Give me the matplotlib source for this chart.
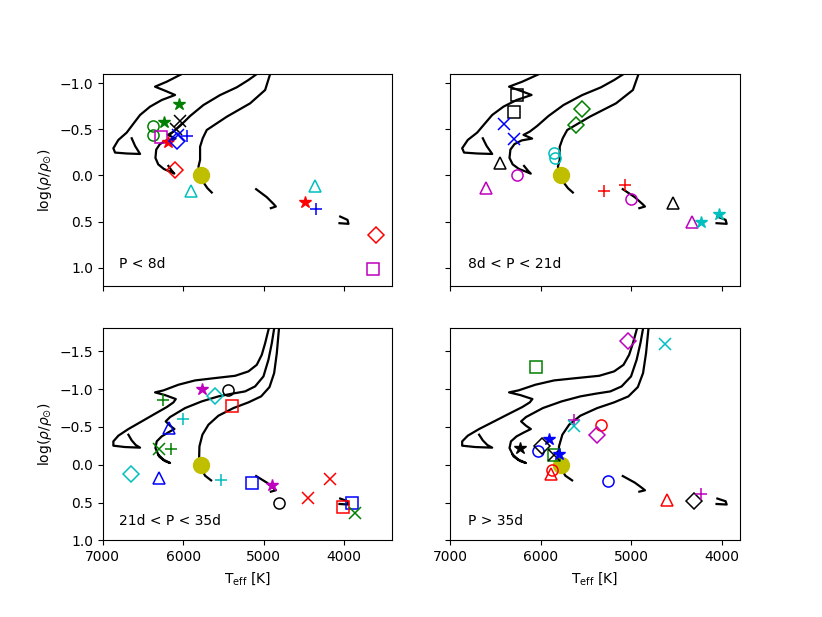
import matplotlib
matplotlib.use("Agg")
import matplotlib.pyplot as plt

# ---------------- evolutionary tracks (Teff [K], log rho/rho_sun) ----------------
# top row tracks
topA_T = [6640, 6598, 6536, 6700, 6847, 6868, 6806, 6702, 6620, 6536, 6412, 6267, 6101, 6225, 6350, 6204, 6018, 5850]
topA_r = [-0.403, -0.320, -0.233, -0.238, -0.248, -0.295, -0.385, -0.465, -0.560, -0.656, -0.746, -0.818, -0.873, -0.919, -0.963, -1.017, -1.100, -1.160]
topB_T = [6184, 6140, 6110, 6160, 6240, 6310, 6345, 6335, 6290, 6210, 6095, 6190, 6122, 6039, 5914, 5748, 5541, 5334, 5189, 5085, 5000]
topB_r = [-0.103, -0.050, -0.020, -0.040, -0.070, -0.120, -0.190, -0.280, -0.340, -0.380, -0.400, -0.440, -0.475, -0.537, -0.645, -0.764, -0.872, -0.956, -1.035, -1.100, -1.160]
topC_T = [5645, 5699, 5769, 5810, 5790, 5790, 5757, 5707, 5458, 5168, 4981, 4919, 4890]
topC_r = [0.185, 0.138, 0.048, -0.096, -0.168, -0.312, -0.403, -0.493, -0.637, -0.782, -0.927, -1.100, -1.160]

# bottom row tracks
botA_T = [6681, 6640, 6590, 6536, 6723, 6868, 6868, 6806, 6681, 6515, 6350, 6204, 6121, 6092, 6225, 6350, 6246, 6059, 5852, 5603, 5354, 5189, 5085, 5023, 4981, 4940, 4919]
botA_r = [-0.397, -0.322, -0.261, -0.226, -0.234, -0.252, -0.309, -0.384, -0.472, -0.573, -0.674, -0.762, -0.824, -0.868, -0.920, -0.956, -0.982, -1.057, -1.114, -1.145, -1.175, -1.233, -1.320, -1.452, -1.606, -1.782, -1.870]
botB_T = [6308, 6250, 6163, 6230, 6300, 6345, 6329, 6267, 6184, 6109, 6163, 6217, 6163, 5976, 5769, 5562, 5396, 5230, 5106, 5002, 4940, 4898, 4865]
botB_r = [-0.133, -0.070, -0.023, -0.050, -0.110, -0.221, -0.309, -0.375, -0.428, -0.472, -0.516, -0.573, -0.630, -0.749, -0.837, -0.903, -0.938, -0.969, -1.035, -1.167, -1.387, -1.607, -1.826]
botC_T = [5653, 5728, 5777, 5802, 5798, 5761, 5686, 5562, 5375, 5189, 5031, 4927, 4869, 4836, 4807]
botC_r = [0.206, 0.144, 0.043, -0.089, -0.243, -0.397, -0.529, -0.648, -0.749, -0.824, -0.903, -1.026, -1.211, -1.475, -1.826]

# low-mass main-sequence segments (all panels)
hookD_T = [5093, 4960, 4878, 4848, 4910]
hookD_r = [0.149, 0.236, 0.308, 0.337, 0.355]
hookE_T = [4048, 3957, 3945, 4057]
hookE_r = [0.446, 0.482, 0.525, 0.518]

sun_T, sun_r = 5777, 0.0

# ---------------- stars per period bin ----------------
labels = ["P < 8d", "8d < P < 21d", "21d < P < 35d", "P > 35d"]

p1_T = [6047, 6238, 6039, 6095, 6371, 6371, 6279, 6184, 6060, 6072, 5955, 6101, 5906, 4359, 4484, 4347, 3601, 3634]
p1_r = [-0.775, -0.583, -0.590, -0.500, -0.537, -0.439, -0.414, -0.367, -0.440, -0.378, -0.428, -0.060, 0.167, 0.113, 0.283, 0.366, 0.651, 1.012]
p1_m = ['*', '*', 'x', 'x', 'o', 'o', 's', '*', 'x', 'D', '+', 'D', '^', '^', '*', '+', 'D', 's']
p1_c = ['g', 'g', 'k', 'k', 'g', 'g', 'm', 'r', 'b', 'b', 'b', 'r', 'c', 'c', 'r', 'b', 'r', 'm']

p2_T = [6262, 6299, 6406, 6299, 5544, 5614, 5853, 5838, 6446, 6258, 6601, 5304, 5072, 5006, 4538, 4325, 4225, 4030]
p2_r = [-0.872, -0.685, -0.558, -0.392, -0.717, -0.548, -0.241, -0.186, -0.139, -0.006, 0.131, 0.167, 0.102, 0.258, 0.301, 0.500, 0.507, 0.417]
p2_m = ['s', 's', 'x', 'x', 'D', 'D', 'o', 'o', '^', 'o', '^', '+', '+', 'o', '^', '^', '*', '*']
p2_c = ['k', 'k', 'b', 'b', 'g', 'g', 'c', 'c', 'k', 'm', 'm', 'r', 'r', 'm', 'k', 'm', 'c', 'c']

p3_T = [5769, 5603, 5437, 5388, 6254, 5997, 6175, 6296, 6155, 6652, 6300, 5529, 5147, 4898, 4803, 4451, 4173, 3903, 4015, 3870]
p3_r = [-0.995, -0.903, -0.982, -0.775, -0.850, -0.599, -0.489, -0.204, -0.204, 0.126, 0.170, 0.206, 0.241, 0.271, 0.505, 0.439, 0.184, 0.500, 0.557, 0.637]
p3_m = ['*', 'D', 'o', 's', '+', '+', '^', 'x', '+', 'D', '^', '+', 's', '*', 'o', 'x', 'x', 's', 's', 'x']
p3_c = ['m', 'c', 'k', 'r', 'g', 'c', 'b', 'g', 'g', 'c', 'b', 'c', 'b', 'm', 'k', 'r', 'r', 'b', 'r', 'g']

p4_T = [5035, 4623, 6056, 5632, 5632, 5330, 5374, 5908, 6229, 6027, 5982, 5850, 5850, 5798, 5872, 5886, 5257, 4605, 4306, 4233]
p4_r = [-1.633, -1.589, -1.290, -0.596, -0.507, -0.529, -0.388, -0.336, -0.221, -0.177, -0.247, -0.134, -0.134, -0.147, 0.073, 0.117, 0.219, 0.469, 0.478, 0.390]
p4_m = ['D', 'x', 's', '+', 'x', 'o', 'D', '*', '*', 'o', 'D', 's', 'x', '*', 'o', '^', 'o', '^', 'D', '+']
p4_c = ['m', 'c', 'g', 'm', 'c', 'r', 'm', 'b', 'k', 'b', 'k', 'g', 'k', 'b', 'r', 'r', 'b', 'r', 'k', 'm']

panels_T = [p1_T, p2_T, p3_T, p4_T]
panels_r = [p1_r, p2_r, p3_r, p4_r]
panels_m = [p1_m, p2_m, p3_m, p4_m]
panels_c = [p1_c, p2_c, p3_c, p4_c]

fig, axes = plt.subplots(2, 2, figsize=(8.22, 6.17), dpi=100, sharex='col', sharey='row')
fig.subplots_adjust(left=0.125, right=0.9, top=0.88, bottom=0.124, wspace=0.2, hspace=0.2)

top_tracks = [(topA_T, topA_r), (topB_T, topB_r), (topC_T, topC_r), (hookD_T, hookD_r), (hookE_T, hookE_r)]
bot_tracks = [(botA_T, botA_r), (botB_T, botB_r), (botC_T, botC_r), (hookD_T, hookD_r), (hookE_T, hookE_r)]

for i, ax in enumerate(axes.flat):
    tracks = top_tracks if i < 2 else bot_tracks
    for tT, tr in tracks:
        ax.plot(tT, tr, color='k', lw=1.6, zorder=1)
    ax.plot(sun_T, sun_r, 'o', color='y', ms=11.5, zorder=2)
    for T, r, m, c in zip(panels_T[i], panels_r[i], panels_m[i], panels_c[i]):
        if m in ('o', 's', '^', 'D'):
            ax.plot(T, r, marker=m, ls='none', mec=c, mfc='none', ms=8, mew=1.1, zorder=3)
        elif m == '*':
            ax.plot(T, r, marker=m, ls='none', color=c, ms=9, mew=1.0, zorder=3)
        else:
            ax.plot(T, r, marker=m, ls='none', color=c, ms=8, mew=1.1, zorder=3)
    ty = 1.0 if i < 2 else 0.8
    ax.text(6800, ty, labels[i], ha='left', va='baseline', fontsize=10)

axes[0, 0].set_xlim(7000, 3400)
axes[0, 1].set_xlim(7000, 3800)
axes[0, 0].set_ylim(1.2, -1.1)
axes[1, 0].set_ylim(1.0, -1.8)
axes[0, 0].set_xticks([7000, 6000, 5000, 4000])
axes[0, 1].set_xticks([7000, 6000, 5000, 4000])

for ax in axes[1, :]:
    ax.set_xlabel(r'T$_{\rm eff}$ [K]')
for ax in axes[:, 0]:
    ax.set_ylabel(r'$\log(\rho/\rho_{\odot})$')

fig.savefig('out.png', dpi=100)
